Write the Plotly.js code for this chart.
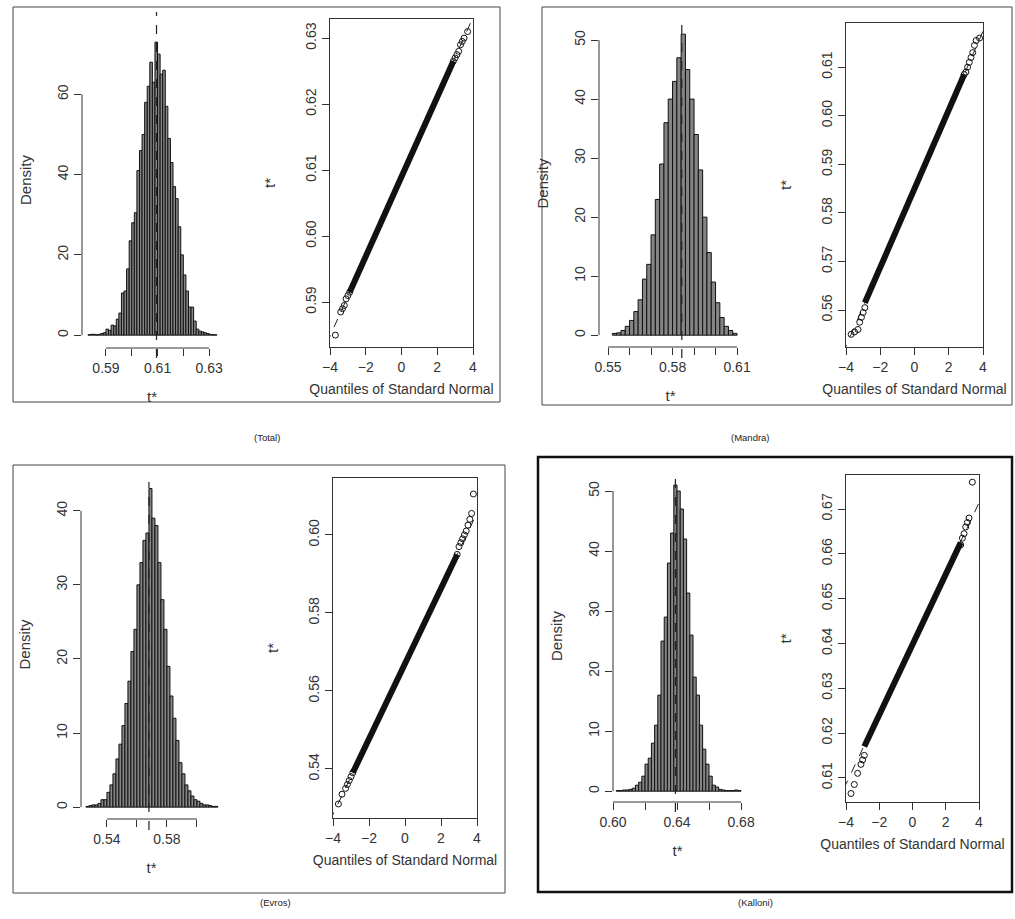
<!DOCTYPE html>
<html>
<head>
<meta charset="utf-8">
<script src="https://cdn.plot.ly/plotly-3.0.1.min.js"></script>
<style>body{margin:0;background:#fff}#chart{width:1015px;height:919px}</style>
</head>
<body>
<div id="chart"></div>
<script>
// Bootstrap histograms (density per bin) and normal QQ plots

// --- Total
var totalStart = 0.583, totalWidth = 0.001;
var totalDensity = [0.1,0.2,0.2,0.1,0.2,0.4,0.6,1.5,1.2,2.5,2.3,4,5.5,10.5,11,16.5,23.5,28,30.5,41,46,50,58,62,68,63,73,70,65,66,57,49,43,37,34,27,20,15,11,7,7,3.5,1.5,1,0.8,0.6,0.4,0.2,0.1,0.1];
var totalMean = 0.6096;
var totalBodyZ = [-2.9, 0, 2.9];
var totalBodyT = [0.5915, 0.609, 0.6265];
var totalTailZ = [-3.7,-3.4,-3.3,-3.2,-3.1,-3.0,-2.9,2.9,3.0,3.1,3.2,3.3,3.4,3.5,3.7];
var totalTailT = [0.585,0.5885,0.589,0.5895,0.5905,0.591,0.5915,0.6265,0.627,0.6275,0.628,0.629,0.6295,0.630,0.631];

// --- Mandra
var mandraStart = 0.552, mandraWidth = 0.002;
var mandraDensity = [0.3,0.4,0.8,1.5,2.5,4,6,9.5,12,17,23,29,36,40,43,47,51,45,40,34,28,20,14,9,5.5,3,1.5,0.8,0.3];
var mandraMean = 0.5843;
var mandraBodyZ = [-2.9, 0, 2.9];
var mandraBodyT = [0.5615, 0.585, 0.6085];
var mandraTailZ = [-3.7,-3.5,-3.3,-3.2,-3.1,-3.0,-2.9,2.9,3.0,3.1,3.2,3.3,3.4,3.5,3.6,3.8];
var mandraTailT = [0.555,0.5555,0.556,0.5575,0.5585,0.5595,0.5605,0.6085,0.609,0.610,0.611,0.612,0.613,0.6145,0.6155,0.616];

// --- Evros
var evrosStart = 0.526, evrosWidth = 0.002;
var evrosDensity = [0.1,0.2,0.3,0.3,0.5,1,1,2,3,4.5,6.5,8.5,11,14,17,21,24,30,33,36,37,43,39,38,33,28,24,19,15,12,9,6,4.5,3,2.2,1.5,1,0.8,0.5,0.3,0.3,0.2,0.1,0.1];
var evrosMean = 0.568;
var evrosBodyZ = [-2.9, 0, 2.9];
var evrosBodyT = [0.539, 0.567, 0.595];
var evrosTailZ = [-3.7,-3.5,-3.3,-3.2,-3.1,-3.0,-2.9,2.9,3.0,3.1,3.2,3.3,3.4,3.5,3.6,3.7,3.8];
var evrosTailT = [0.531,0.5335,0.535,0.536,0.537,0.538,0.539,0.595,0.597,0.598,0.599,0.600,0.601,0.6025,0.604,0.6055,0.6105];

// --- Kalloni
var kalloniStart = 0.602, kalloniWidth = 0.002;
var kalloniDensity = [0.1,0.1,0.2,0.2,0.3,0.5,1,1.5,2.5,4.5,5.5,8,11,16,25,29,38,43,51,50,47,42,33,26,19,16,11,7,4.5,2.5,1,0.7,0.3,0.2,0.1,0.1,0.1,0.2,0.1];
var kalloniMean = 0.639;
var kalloniBodyZ = [-2.9, 0, 2.9];
var kalloniBodyT = [0.617, 0.640, 0.6625];
var kalloniTailZ = [-3.7,-3.5,-3.3,-3.1,-3.0,-2.9,2.9,3.0,3.1,3.2,3.3,3.4,3.6];
var kalloniTailT = [0.6065,0.6085,0.611,0.613,0.614,0.615,0.662,0.6635,0.6645,0.666,0.667,0.668,0.676];

var W = 1015, H = 919;
var FONT = 'Liberation Sans, Arial, sans-serif';
var INK = '#333';

function px(x) { return x / W; }
function py(y) { return 1 - y / H; }

var panels = [
  {start: totalStart, w: totalWidth, d: totalDensity, mean: totalMean,
   bz: totalBodyZ, bt: totalBodyT, tz: totalTailZ, tt: totalTailT,
   h: {x0: 82, x1: 222, y0: 12, y1: 348, xr: [0.5807, 0.635], yr: [-3.2, 80.5],
       xt: [0.59,0.60,0.61,0.62,0.63], xl: ['0.59','','0.61','','0.63'], yt: [0,20,40,60]},
   q: {x0: 330, x1: 473, y0: 19, y1: 347, yr: [0.5832, 0.6329], yt: [0.59,0.60,0.61,0.62,0.63]},
   meanTop: 12, meanBot: 358},
  {start: mandraStart, w: mandraWidth, d: mandraDensity, mean: mandraMean,
   bz: mandraBodyZ, bt: mandraBodyT, tz: mandraTailZ, tt: mandraTailT,
   h: {x0: 599, x1: 742, y0: 20, y1: 347, xr: [0.5458, 0.6123], yr: [-2.0, 53.4],
       xt: [0.55,0.56,0.57,0.58,0.59,0.60,0.61], xl: ['0.55','','','0.58','','','0.61'], yt: [0,10,20,30,40,50]},
   q: {x0: 846, x1: 983, y0: 23, y1: 347, yr: [0.5524, 0.6191], yt: [0.56,0.57,0.58,0.59,0.60,0.61]},
   meanTop: 25, meanBot: 358},
  {start: evrosStart, w: evrosWidth, d: evrosDensity, mean: evrosMean,
   bz: evrosBodyZ, bt: evrosBodyT, tz: evrosTailZ, tt: evrosTailT,
   h: {x0: 81, x1: 222, y0: 470, y1: 819, xr: [0.5227, 0.6167], yr: [-1.6, 45.5],
       xt: [0.54,0.56,0.58,0.60], xl: ['0.54','','0.58',''], yt: [0,10,20,30,40]},
   q: {x0: 333, x1: 477, y0: 478, y1: 818, yr: [0.5274, 0.6146], yt: [0.54,0.56,0.58,0.60]},
   meanTop: 482, meanBot: 830},
  {start: kalloniStart, w: kalloniWidth, d: kalloniDensity, mean: kalloniMean,
   bz: kalloniBodyZ, bt: kalloniBodyT, tz: kalloniTailZ, tt: kalloniTailT,
   h: {x0: 613, x1: 742, y0: 470, y1: 802, xr: [0.60, 0.6806], yr: [-1.8, 53.5],
       xt: [0.60,0.62,0.64,0.66,0.68], xl: ['0.60','','0.64','','0.68'], yt: [0,10,20,30,40,50]},
   q: {x0: 846, x1: 979, y0: 475, y1: 802, yr: [0.6046, 0.6776], yt: [0.61,0.62,0.63,0.64,0.65,0.66,0.67]},
   meanTop: 478, meanBot: 812}
];

var traces = [];
var layout = {
  width: W, height: H, margin: {l: 0, r: 0, t: 0, b: 0},
  paper_bgcolor: '#fff', plot_bgcolor: 'rgba(0,0,0,0)',
  showlegend: false, bargap: 0,
  font: {family: FONT, size: 14, color: INK},
  shapes: [], annotations: []
};

function axisBase(extra) {
  var a = {showgrid: false, zeroline: false, ticks: 'outside', ticklen: 7, tickwidth: 1,
           tickcolor: INK, tickfont: {family: FONT, size: 14, color: INK}};
  for (var k in extra) a[k] = extra[k];
  return a;
}

panels.forEach(function (p, i) {
  var hn = 2 * i + 1, qn = 2 * i + 2;
  var hx = 'x' + hn, hy = 'y' + hn, qx = 'x' + qn, qy = 'y' + qn;

  // histogram bars
  var centers = p.d.map(function (v, k) { return p.start + p.w * (k + 0.5); });
  traces.push({type: 'bar', x: centers, y: p.d, width: p.w, xaxis: hx, yaxis: hy,
    marker: {color: '#858585', line: {color: '#111', width: 1}}, hoverinfo: 'skip'});

  // qqline through the body points
  var slope = (p.bt[2] - p.bt[0]) / (p.bz[2] - p.bz[0]);
  var lz = [-4.6, 4.6];
  traces.push({type: 'scatter', mode: 'lines', x: lz,
    y: lz.map(function (z) { return p.bt[1] + slope * (z - p.bz[1]); }),
    xaxis: qx, yaxis: qy, line: {color: '#222', width: 1, dash: 'dash'}, hoverinfo: 'skip'});

  // QQ: dense body drawn as a heavy band, sparse tails as open circles
  traces.push({type: 'scatter', mode: 'lines', x: p.bz, y: p.bt, xaxis: qx, yaxis: qy,
    line: {color: '#111', width: 6}, hoverinfo: 'skip'});
  traces.push({type: 'scatter', mode: 'markers', x: p.tz, y: p.tt, xaxis: qx, yaxis: qy,
    marker: {symbol: 'circle-open', size: 6, color: '#111', line: {width: 1}}, hoverinfo: 'skip'});

  var h = p.h, q = p.q;
  layout['xaxis' + hn] = axisBase({domain: [px(h.x0), px(h.x1)], anchor: hy, range: h.xr,
    tickmode: 'array', tickvals: h.xt, ticktext: h.xl, showline: false,
    title: {text: 't*', standoff: 16, font: {size: 15}}});
  layout['yaxis' + hn] = axisBase({domain: [py(h.y1), py(h.y0)], anchor: hx, range: h.yr,
    tickmode: 'array', tickvals: h.yt, tickangle: -90, showline: false,
    title: {text: 'Density', standoff: 20, font: {size: 15}}});
  layout['xaxis' + qn] = axisBase({domain: [px(q.x0), px(q.x1)], anchor: qy, range: [-4, 4],
    tickmode: 'array', tickvals: [-4,-2,0,2,4], showline: true, mirror: true, linecolor: INK,
    title: {text: 'Quantiles of Standard Normal', standoff: 10, font: {size: 14}}});
  layout['yaxis' + qn] = axisBase({domain: [py(q.y1), py(q.y0)], anchor: qx, range: q.yr,
    tickmode: 'array', tickvals: q.yt, tickformat: '.2f', tickangle: -90,
    showline: true, mirror: true, linecolor: INK,
    title: {text: 't*', standoff: 24, font: {size: 15}}});

  // R-style axis lines that only span the ticks
  layout.shapes.push({type: 'line', xref: hx + ' domain', yref: hy, x0: 0, x1: 0,
    y0: h.yt[0], y1: h.yt[h.yt.length - 1], line: {color: INK, width: 1}});
  layout.shapes.push({type: 'line', xref: hx, yref: hy + ' domain', y0: 0, y1: 0,
    x0: h.xt[0], x1: h.xt[h.xt.length - 1], line: {color: INK, width: 1}});
  // dashed line at the observed statistic
  layout.shapes.push({type: 'line', xref: hx, yref: 'paper', x0: p.mean, x1: p.mean,
    y0: py(p.meanBot), y1: py(p.meanTop), line: {color: '#222', width: 1.2, dash: 'dash'}});
});

// panel frames
var frames = [
  [13, 7, 500, 402, 1, '#444'], [542, 7, 1012, 405, 1, '#444'],
  [13, 465, 505, 893, 1, '#444'], [538, 457, 1012, 892, 2.5, '#111']
];
frames.forEach(function (f) {
  layout.shapes.push({type: 'rect', xref: 'paper', yref: 'paper',
    x0: px(f[0]), x1: px(f[2]), y0: py(f[3]), y1: py(f[1]), line: {color: f[5], width: f[4]}});
});

var captions = [['(Total)', 252, 437], ['(Mandra)', 772, 437], ['(Evros)', 258, 910], ['(Kalloni)', 775, 910]];
captions.forEach(function (c) {
  layout.annotations.push({text: c[0], xref: 'paper', yref: 'paper', x: px(c[1]), y: py(c[2]),
    showarrow: false, font: {family: 'Liberation Sans, Arial, sans-serif', size: 9.5, color: '#222'}});
});

Plotly.newPlot('chart', traces, layout, {staticPlot: true});
</script>
</body>
</html>
